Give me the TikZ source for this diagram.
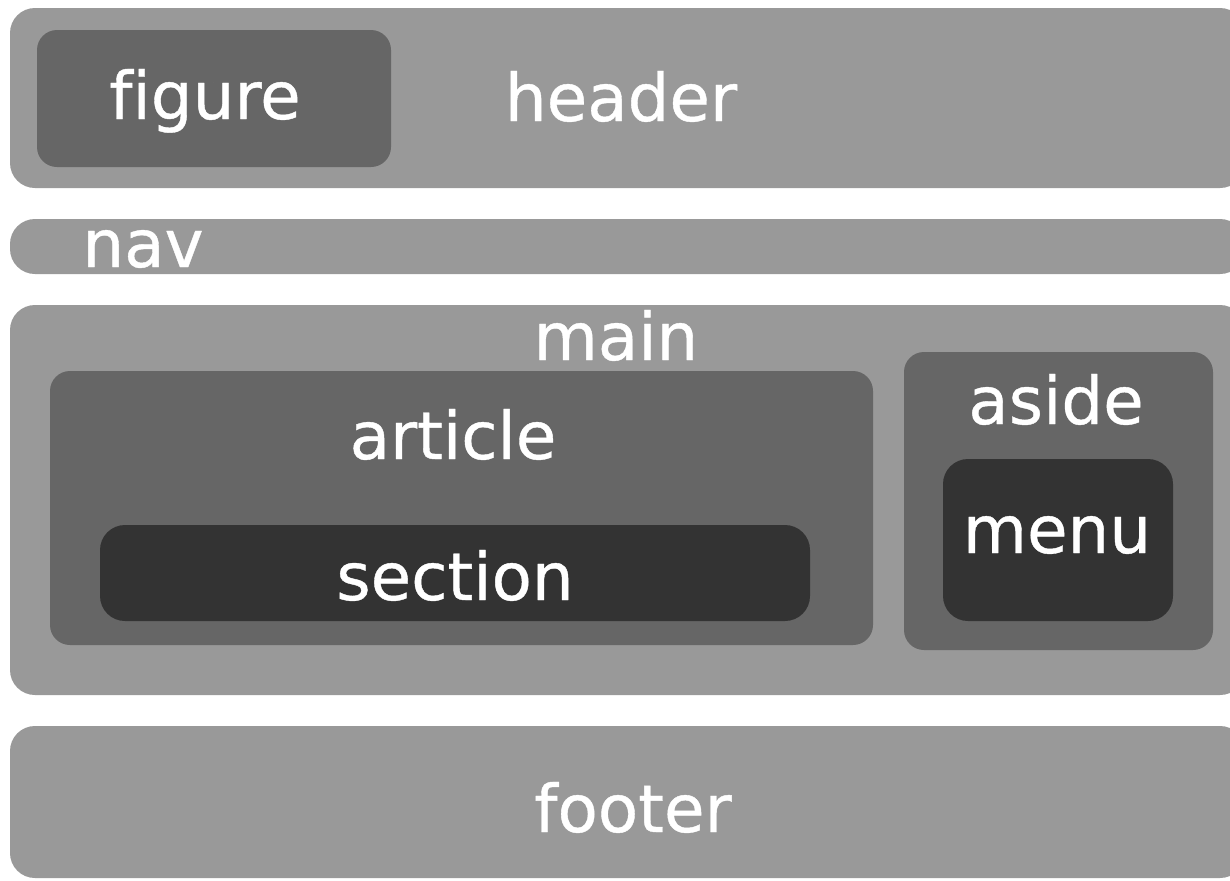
\documentclass[tikz,border=0pt]{standalone}
\usepackage{fontspec}
\setmainfont{DejaVu Sans}[Ligatures=NoCommon, FakeBold=0.6]
\usepackage{tikz}

\begin{document}
\begin{tikzpicture}[x=0.02cm, y=-0.02cm,
    every node/.style={font=\fontsize{37.5}{45}\selectfont, text=white, anchor=base, inner sep=0pt},
    outerbox/.style={fill=black!40, rounded corners=0.5cm},
    innerbox/.style={fill=black!60, rounded corners=0.4cm},
    corebox/.style={fill=black!80, rounded corners=0.5cm}]
    \clip (0,0) rectangle (1230,880);
    \fill[white] (0,0) rectangle (1230,880);

    % page regions
    \fill[outerbox] (10,8) rectangle (1245,188);
    \fill[outerbox] (10,219) rectangle (1245,274);
    \fill[outerbox] (10,305) rectangle (1245,695);
    \fill[outerbox] (10,726) rectangle (1245,878);

    \fill[innerbox] (37,30) rectangle (391,167);
    \fill[innerbox] (50,371) rectangle (873,645);
    \fill[innerbox] (904,352) rectangle (1213,650);
    \fill[corebox] (100,525) rectangle (810,621);
    \fill[corebox] (943,459) rectangle (1173,621);

    % labels
    \node (figure) at (205,119) {figure};
    \node (header) at (621,121) {header};
    \node (nav) at (143,267) {nav};
    \node (main) at (616,360) {main};
    \node (article) at (453,459) {article};
    \node (section) at (455,600) {section};
    \node (aside) at (1056,424) {aside};
    \node (menu) at (1057,553) {menu};
    \node (footer) at (633,832) {footer};
\end{tikzpicture}
\end{document}
